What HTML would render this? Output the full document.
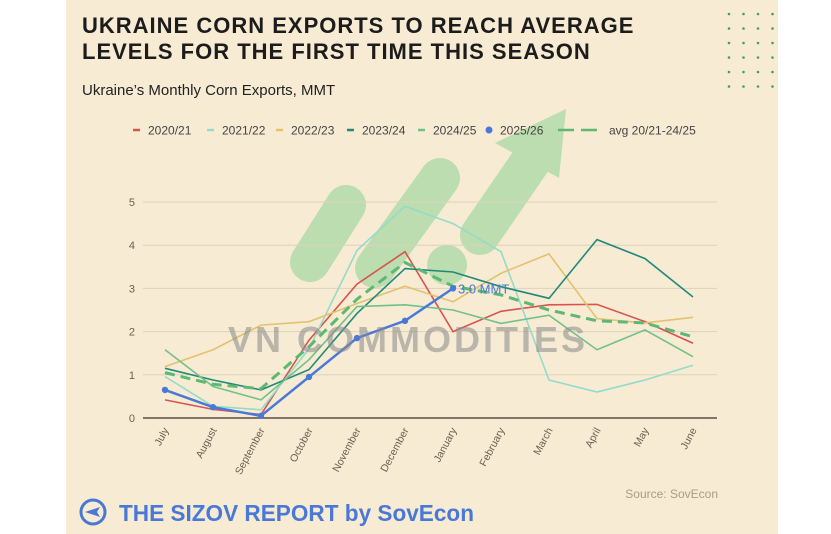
<!DOCTYPE html>
<html><head><meta charset="utf-8"><style>
body{margin:0;width:831px;height:534px;background:#fff;overflow:hidden;font-family:"Liberation Sans",sans-serif}
#panel{position:absolute;left:66px;top:0;width:712px;height:534px;background:#f7ebd4}
</style></head><body>
<div id="panel"></div>
<svg id="chart" width="831" height="534" style="position:absolute;left:0;top:0">
<text x="82" y="33" font-size="22" font-weight="bold" fill="#1c1c1c" letter-spacing="1">UKRAINE CORN EXPORTS TO REACH AVERAGE</text>
<text x="82" y="59" font-size="22" font-weight="bold" fill="#1c1c1c" letter-spacing="1">LEVELS FOR THE FIRST TIME THIS SEASON</text>
<text x="82" y="95" font-size="15" fill="#222">Ukraine’s Monthly Corn Exports, MMT</text>
<g id="dots"></g>
<g id="decor" opacity="0.75">
<line x1="310" y1="262" x2="346" y2="205" stroke="#a9d9a4" stroke-width="40" stroke-linecap="round"/>
<line x1="375" y1="268" x2="440" y2="178" stroke="#a9d9a4" stroke-width="40" stroke-linecap="round"/>
<line x1="480" y1="235" x2="535" y2="155" stroke="#a9d9a4" stroke-width="40" stroke-linecap="round"/>
<polygon points="566,109 495,143 559,178" fill="#a9d9a4"/>
<circle cx="447" cy="265" r="20" fill="#a9d9a4"/>
</g>
<g id="grid"></g><g id="legend"></g><g id="series"></g>
<text x="408" y="352" font-size="36" font-weight="bold" fill="#8a8a8a" opacity="0.55" text-anchor="middle" letter-spacing="3">VN COMMODITIES</text>
<text x="718" y="498" font-size="12" fill="#a89c8a" text-anchor="end">Source: SovEcon</text>
<circle cx="93" cy="512" r="12" fill="none" stroke="#4a78d6" stroke-width="3"/>
<path d="M85 512 L100 507 L97 512 L100 517 Z" fill="#4a78d6"/>
<text x="119" y="521" font-size="23" font-weight="bold" fill="#4a78d6" textLength="355" lengthAdjust="spacingAndGlyphs">THE SIZOV REPORT by SovEcon</text>
</svg>
<script>
const months=["July","August","September","October","November","December","January","February","March","April","May","June"];
const yTicks=[0,1,2,3,4,5];
const s2020=[0.42,0.2,0.08,1.8,3.1,3.85,2.0,2.47,2.62,2.63,2.23,1.73];
const s2021=[0.96,0.27,0.19,1.6,3.88,4.9,4.5,3.85,0.88,0.6,0.88,1.22];
const s2022=[1.19,1.58,2.15,2.23,2.65,3.05,2.69,3.35,3.8,2.3,2.2,2.33];
const s2023=[1.15,0.88,0.65,1.12,2.42,3.46,3.38,3.04,2.77,4.13,3.69,2.8];
const s2024=[1.58,0.73,0.42,1.35,2.58,2.62,2.5,2.19,2.38,1.58,2.04,1.42];
const s2025=[0.65,0.25,0.05,0.95,1.85,2.25,3.0];
const avg=[1.05,0.78,0.68,1.65,2.75,3.6,3.05,2.85,2.5,2.25,2.2,1.88];
const seriesNames=["2020/21","2021/22","2022/23","2023/24","2024/25","2025/26","avg 20/21-24/25"];
const NS="http://www.w3.org/2000/svg";
const X=i=>165+i*48, Y=v=>418-v*43.2;
function mk(t,a,p){const e=document.createElementNS(NS,t);for(const k in a)e.setAttribute(k,a[k]);p.appendChild(e);return e;}
const dots=document.getElementById('dots');
for(let r=0;r<6;r++)for(let c=0;c<4;c++)mk('circle',{cx:729+c*14.5,cy:14+r*14.5,r:1.3,fill:'#3aa06a'},dots);
const grid=document.getElementById('grid');
yTicks.forEach(v=>{
 const l=mk('line',{x1:143,x2:717,y1:Y(v),y2:Y(v),stroke:v===0?'#5a5040':'#ddd2bc','stroke-width':v===0?1.5:1},grid);
 
 
 const t=mk('text',{x:135,y:Y(v)+4,'font-size':11,fill:'#6a6050','text-anchor':'end'},grid);t.textContent=v;
 
 
});
months.forEach((m,i)=>{
 const t=mk('text',{x:X(i)+4,y:430,'font-size':10.5,fill:'#6a6050','text-anchor':'end',transform:`rotate(-62 ${X(i)+4} 430)`},grid);t.textContent=m;
 
 
});
const colors=["#d9534f","#94dcc8","#e3c26e","#1f8a7a","#72c08a","#4a78d6","#5cb872"];
const datas=[s2020,s2021,s2022,s2023,s2024,s2025,avg];
const sg=document.getElementById('series');
datas.forEach((d,k)=>{
 if(k===5)return;
 const p=mk('polyline',{points:d.map((v,i)=>X(i)+','+Y(v)).join(' '),fill:'none',stroke:colors[k],'stroke-width':k===6?3:1.6,'stroke-dasharray':k===6?'10 6':'none'},sg);
 
 
});
const bl=mk('polyline',{points:s2025.map((v,i)=>X(i)+','+Y(v)).join(' '),fill:'none',stroke:colors[5],'stroke-width':2.5},sg);


s2025.forEach((v,i)=>{const c=mk('circle',{cx:X(i),cy:Y(v),r:3.2,fill:colors[5]},sg);
 
 });
const last=s2025.length-1;
const lab=mk('text',{x:X(last)+5,y:Y(s2025[last])+5,'font-size':13,fill:'#4a78d6'},sg);lab.textContent=s2025[last].toFixed(1)+' MMT';


const lg=document.getElementById('legend');
const lx=[133,207,276,347,418,489,558];
seriesNames.forEach((n,k)=>{
 const g=mk('g',{},lg);
 
 
 if(k===5)mk('circle',{cx:lx[k],cy:130,r:3.5,fill:colors[k]},g);
 else if(k===6){mk('line',{x1:lx[k],x2:lx[k]+16,y1:130,y2:130,stroke:colors[k],'stroke-width':2.5},g);mk('line',{x1:lx[k]+23,x2:lx[k]+39,y1:130,y2:130,stroke:colors[k],'stroke-width':2.5},g);}
 else mk('line',{x1:lx[k],x2:lx[k]+7,y1:130,y2:130,stroke:colors[k],'stroke-width':2.5},g);
 const t=mk('text',{x:lx[k]+(k===6?51:(k===5?11:15)),y:134.5,'font-size':12,fill:'#444'},g);t.textContent=n;
});
</script>
</body></html>
